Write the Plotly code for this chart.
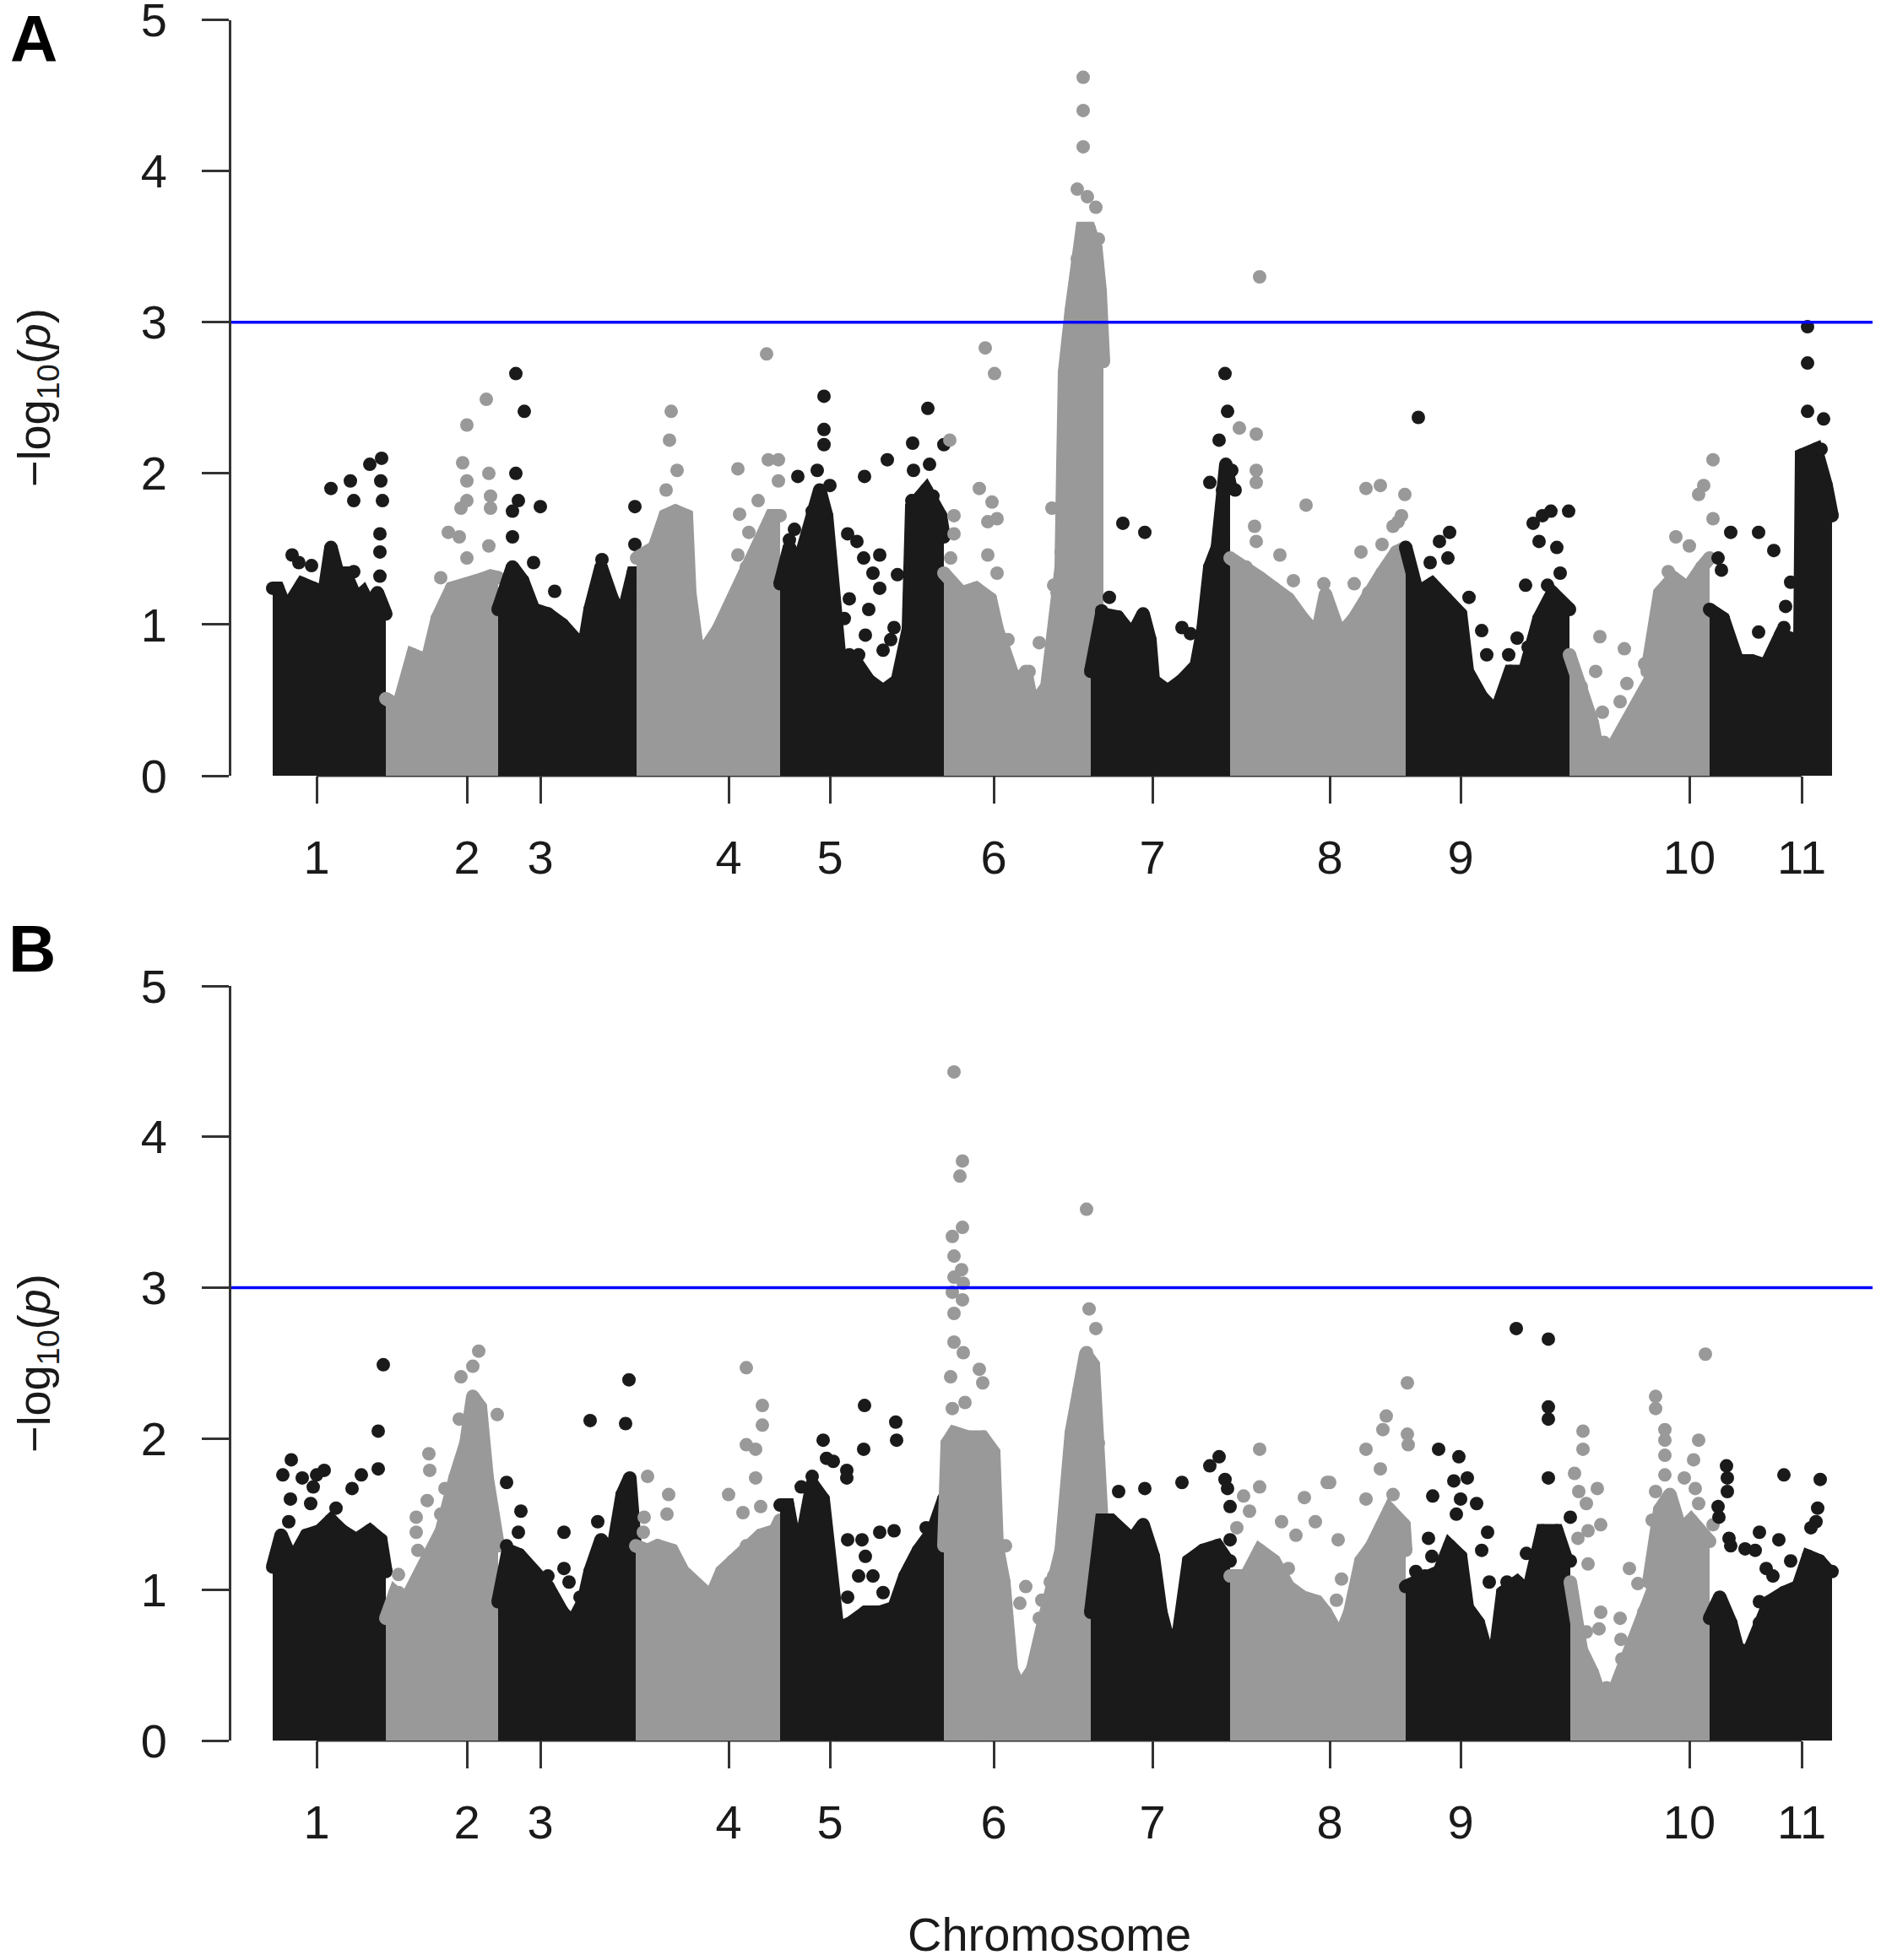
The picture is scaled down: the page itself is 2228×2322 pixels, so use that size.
import plotly.graph_objects as go

# chromosome ticks (cumulative position, same units as the point positions)
CHROM_LABELS = ["1", "2", "3", "4", "5", "6", "7", "8", "9", "10", "11"]
TICK_POS = [52, 230, 317, 540, 660, 854, 1042, 1252, 1407, 1678, 1811]
SUGGESTIVE = 3.0

# ---- panel A: dense body of each chromosome (upper edge) ----
A_ENV_POS = [
    [0, 6, 16, 35, 48, 61, 69, 77, 86, 99, 107, 115, 124, 134],
    [134, 149, 166, 183, 195, 212, 242, 258, 267],
    [267, 284, 296, 309, 326, 343, 359, 368, 376, 389, 402, 414, 427, 431],
    [431, 452, 465, 477, 490, 494, 503, 515, 528, 545, 561, 578, 591, 601],
    [601, 612, 622, 639, 648, 656, 664, 673, 690, 706, 723, 740, 753, 757, 774, 791, 795],
    [795, 816, 833, 850, 858, 871, 883, 892, 900, 917, 929, 934, 936, 938, 946, 953, 959, 967, 975, 980, 984],
    [969, 982, 1001, 1018, 1031, 1039, 1043, 1060, 1077, 1094, 1102, 1110, 1119, 1125, 1129, 1134],
    [1134, 1153, 1169, 1186, 1203, 1220, 1237, 1247, 1264, 1281, 1298, 1314, 1331, 1342],
    [1342, 1356, 1373, 1390, 1407, 1415, 1432, 1449, 1466, 1483, 1500, 1516, 1533, 1536],
    [1536, 1550, 1563, 1571, None, 1628, 1643, 1659, 1676, 1693, 1702],
    [1702, 1718, 1735, 1752, 1769, 1786, 1803, 1809, 1811, 1828, 1840, 1847],
]
A_ENV_LOGP = [
    [1.24, 1.24, 1.10, 1.27, 1.24, 1.21, 1.51, 1.34, 1.34, 1.17, 1.21, 1.12, 1.21, 1.07],
    [0.51, 0.46, 0.80, 0.76, 1.04, 1.24, 1.29, 1.32, 1.31],
    [1.10, 1.38, 1.29, 1.10, 1.07, 1.00, 0.90, 0.83, 1.10, 1.38, 1.17, 1.04, 1.34, 1.34],
    [1.44, 1.51, 1.72, 1.75, 1.72, 1.21, 0.83, 0.86, 0.97, 1.17, 1.38, 1.55, 1.72, 1.72],
    [1.27, 1.51, 1.38, 1.75, 1.89, 1.72, 1.10, 0.69, 0.76, 0.63, 0.56, 0.63, 0.97, 1.78, 1.89, 1.72, 1.58],
    [1.34, 1.21, 1.24, 1.17, 0.97, 0.73, 0.56, 0.69, 0.46, 0.59, 1.21, 1.38, 2.06, 2.67, 3.08, 3.42, 3.62, 3.62, 3.49, 3.21, 2.74],
    [0.69, 1.07, 1.05, 0.93, 1.07, 0.90, 0.63, 0.56, 0.63, 0.73, 0.97, 1.38, 1.51, 1.89, 2.06, 1.92],
    [1.44, 1.38, 1.31, 1.24, 1.17, 1.04, 0.93, 1.20, 0.93, 1.04, 1.21, 1.34, 1.48, 1.51],
    [1.51, 1.21, 1.27, 1.17, 1.07, 0.69, 0.52, 0.42, 0.69, 0.69, 1.04, 1.21, 1.10, 1.10],
    [0.80, 0.59, 0.35, 0.12, None, 0.69, 1.21, 1.31, 1.24, 1.38, 1.44],
    [1.10, 1.04, 0.76, 0.76, 0.73, 0.93, 0.90, 0.90, 2.12, 2.16, 1.92, 1.72],
]
# ---- panel A: single SNPs standing out of the body ----
A_PT_POS = [
    [23, 46, 69, 92, 96, 115, 129, 128, 130, 127, 127, 127, 96, 69, 31],
    [199, 208, 221, 230, 223, 230, 230, 225, 230, 253, 256, 258, 258, 256],
    [288, 298, 288, 291, 284, 317, 284, 309, 334, 390, 429, 429],
    [472, 470, 479, 466, 585, 551, 587, 599, 599, 575, 553, 564, 551],
    [653, 653, 653, 645, 622, 660, 618, 612, 681, 692, 700, 719, 701, 728, 740, 683, 711,
     719, 736, 683, 702, 723, 711, 677, 776, 758, 795, 759, 778, 757, 782, 694, 706, 732],
    [844, 855, 802, 837, 852, 858, 847, 807, 807, 803, 847, 858, 923, 908, 896, 925, 934,
     871, 887, 960, 960, 960, 953, 965, 975, 967, 978],
    [991, 982, 1007, 1033, 1077, 1087, 1128, 1131, 1121, 1110, 1136, 1140],
    [1145, 1165, 1165, 1165, 1169, 1163, 1165, 1193, 1224, 1209, 1245, 1295, 1312, 1341,
     1333, 1289, 1314, 1281, 1327, 1337],
    [1357, 1394, 1382, 1371, 1392, 1417, 1432, 1438, 1464, 1474, 1487, 1484, 1510, 1493,
     1504, 1514, 1535, 1500, 1521, 1525, 1420],
    [1706, 1695, 1689, 1706, 1662, 1678, 1693, 1653, 1572, 1601, 1604, 1625, 1567, 1575,
     1577, 1596, 1601, 1605, 1609, 1612, 1620],
    [1818, 1818, 1818, 1837, 1834, 1727, 1760, 1778, 1798, 1792, 1790, 1712, 1716, 1760],
]
A_PT_LOGP = [
    [1.46, 1.39, 1.90, 1.95, 1.82, 2.06, 2.10, 1.95, 1.82, 1.60, 1.48, 1.32, 1.35, 1.48, 1.41],
    [1.31, 1.61, 1.58, 1.44, 1.77, 1.82, 1.95, 2.07, 2.32, 2.49, 2.00, 1.85, 1.77, 1.52],
    [2.66, 2.41, 2.00, 1.82, 1.75, 1.78, 1.58, 1.41, 1.22, 1.43, 1.78, 1.53],
    [2.41, 2.22, 2.02, 1.89, 2.79, 2.03, 2.09, 2.09, 1.95, 1.82, 1.73, 1.61, 1.46],
    [2.51, 2.29, 2.19, 2.02, 1.98, 1.92, 1.63, 1.56, 1.60, 1.55, 1.44, 1.46, 1.98, 2.09, 1.33, 1.17, 1.34,
     1.24, 0.98, 0.80, 0.93, 0.83, 0.59, 1.04, 2.43, 2.20, 2.19, 2.02, 2.06, 1.82, 1.85, 0.80, 1.10, 0.90],
    [2.83, 2.66, 2.22, 1.90, 1.81, 1.70, 1.68, 1.72, 1.60, 1.44, 1.46, 1.34, 1.77, 0.88, 0.69, 1.26, 1.48,
     0.90, 0.66, 4.62, 4.40, 4.16, 3.88, 3.83, 3.76, 3.60, 3.55],
    [1.18, 1.09, 1.67, 1.61, 0.98, 0.94, 2.66, 2.41, 2.22, 1.94, 2.02, 1.89],
    [2.30, 2.26, 2.02, 1.94, 3.30, 1.65, 1.55, 1.46, 1.79, 1.29, 1.27, 1.90, 1.92, 1.86,
     1.68, 1.48, 1.53, 1.27, 1.65, 1.72],
    [2.37, 1.61, 1.55, 1.41, 1.44, 1.18, 0.96, 0.80, 0.80, 0.91, 0.85, 1.26, 1.26, 1.67,
     1.72, 1.75, 1.75, 1.55, 1.51, 1.34, 0.59],
    [2.09, 1.92, 1.86, 1.70, 1.58, 1.52, 1.38, 1.35, 0.92, 0.84, 0.61, 0.74, 0.69, 0.42,
     0.22, 0.49, 0.32, 0.15, 0.08, 0.30, 0.05],
    [2.97, 2.73, 2.41, 2.36, 2.16, 1.61, 1.61, 1.49, 1.28, 1.12, 0.98, 1.44, 1.36, 0.95],
]

# ---- panel B: dense body ----
B_ENV_POS = [
    [0, 10, 23, 40, 56, 69, 82, 99, 115, 128, 134],
    [134, 145, 157, 170, 183, 200, 216, 229, 237, 246, 254, 263, 267],
    [267, 279, 292, 309, 326, 343, 355, 368, 376, 389, 402, 414, 423, 430],
    [430, 444, 456, 473, 486, 503, 519, 532, 545, 561, 578, 595, 601],
    [601, 610, 622, 639, 652, 660, 669, 685, 702, 719, 736, 749, 765, 782, 795],
    [795, 799, 807, 824, 841, 854, 858, 866, 875, 883, 892, 900, 913, 925, 934, 946, 955, 963, 972, 978, 982],
    [969, 982, 993, 1009, 1018, 1031, 1043, 1052, 1060, 1073, 1085, 1102, 1119, 1131, 1134],
    [1134, 1153, 1169, 1186, 1203, 1220, 1237, 1247, 1264, 1276, 1289, 1302, 1323, 1340, 1342],
    [1342, 1365, 1382, 1394, 1407, 1415, 1428, 1445, 1457, 1474, 1487, 1504, 1521, 1533, 1537],
    [1537, 1550, 1563, 1575, None, 1630, 1643, 1655, 1668, 1680, 1693, 1702],
    [1702, 1714, 1727, 1735, 1748, 1761, 1773, 1790, 1807, 1819, 1832, 1843, 1847],
]
B_ENV_LOGP = [
    [1.15, 1.36, 1.19, 1.36, 1.39, 1.46, 1.39, 1.33, 1.39, 1.33, 1.12],
    [0.81, 0.98, 0.92, 1.05, 1.19, 1.39, 1.74, 1.97, 2.28, 2.21, 1.74, 1.33, 1.29],
    [0.92, 1.26, 1.23, 1.12, 1.02, 0.85, 0.78, 0.92, 1.12, 1.33, 1.23, 1.63, 1.74, 1.23],
    [1.29, 1.26, 1.29, 1.26, 1.12, 1.02, 0.95, 1.12, 1.19, 1.29, 1.36, 1.39, 1.46],
    [1.56, 1.56, 1.19, 1.70, 1.60, 1.15, 0.74, 0.78, 0.85, 0.85, 0.88, 1.09, 1.26, 1.39, 1.60],
    [1.29, 1.97, 2.04, 2.01, 2.01, 1.91, 1.29, 1.05, 0.47, 0.37, 0.40, 0.47, 0.78, 1.09, 1.26, 2.04, 2.32, 2.56, 2.49, 1.97, 1.46],
    [0.85, 1.46, 1.46, 1.36, 1.33, 1.43, 1.22, 0.85, 0.68, 0.71, 1.19, 1.26, 1.29, 1.19, 1.19],
    [1.09, 1.09, 1.26, 1.19, 1.02, 0.95, 0.92, 0.85, 0.68, 0.85, 1.19, 1.29, 1.53, 1.43, 1.26],
    [1.02, 1.09, 1.12, 1.29, 1.22, 0.88, 0.78, 0.44, 0.98, 1.05, 0.98, 1.39, 1.39, 1.19, 1.19],
    [1.05, 0.60, 0.45, 0.25, None, 1.05, 1.53, 1.63, 1.39, 1.46, 1.36, 1.32],
    [0.81, 0.95, 0.78, 0.61, 0.58, 0.78, 0.92, 0.98, 1.02, 1.22, 1.19, 1.12, 1.12],
]
# ---- panel B: single SNPs ----
B_PT_POS = [
    [131, 125, 125, 22, 12, 35, 52, 61, 48, 21, 45, 19, 75, 94, 105, 92],
    [244, 237, 223, 221, 266, 251, 185, 186, 183, 170, 170, 172, 199, 204, 149, 149],
    [277, 294, 291, 277, 345, 345, 351, 376, 418, 422, 385, 326, 364],
    [444, 469, 467, 440, 439, 561, 580, 580, 561, 572, 572, 540, 557, 578, 545, 490],
    [652, 656, 664, 680, 680, 701, 700, 738, 739, 639, 626, 681, 698, 719, 736, 702, 711,
     723, 694, 681, 795, 795, 774],
    [807, 817, 814, 817, 805, 807, 816, 807, 818, 805, 817, 807, 807, 818, 837, 841, 803,
     805, 820, 868, 892, 911, 885, 908, 921, 934, 964, 967, 975, 964],
    [1002, 1033, 1077, 1110, 1121, 1128, 1131, 1134, 980, 993, 1134],
    [1169, 1169, 1150, 1157, 1142, 1222, 1235, 1249, 1195, 1212, 1203, 1344, 1319, 1315,
     1295, 1344, 1345, 1312, 1252, 1262, 1260, 1266, 1295, 1327],
    [1473, 1511, 1511, 1511, 1511, 1381, 1405, 1399, 1415, 1374, 1407, 1426, 1402, 1369,
     1439, 1432, 1373, 1354, 1537, 1485, 1462, 1460, 1441],
    [1552, 1552, 1542, 1547, 1556, 1569, 1573, 1558, 1558, 1546, 1607, 1617, 1573, 1624,
     1571, 1556, 1697, 1638, 1638, 1649, 1649, 1649, 1689, 1683, 1649, 1672, 1685, 1689,
     1638, 1634, 1706, 1596, 1597, 1598, 1599, 1600, 1602, 1607, 1580, 1584],
    [1722, 1723, 1723, 1712, 1713, 1725, 1727, 1790, 1833, 1830, 1828, 1822, 1761, 1744,
     1784, 1798, 1756, 1769, 1777, 1761],
]
B_PT_LOGP = [
    [2.49, 2.05, 1.80, 1.86, 1.76, 1.74, 1.76, 1.79, 1.68, 1.60, 1.57, 1.45, 1.54, 1.67, 1.76, 0.99],
    [2.58, 2.48, 2.41, 2.13, 2.16, 1.91, 1.90, 1.79, 1.59, 1.48, 1.38, 1.26, 1.50, 1.67, 1.10, 0.98],
    [1.71, 1.52, 1.38, 1.29, 1.38, 1.14, 1.05, 2.12, 2.10, 2.39, 1.45, 1.09, 0.95],
    [1.75, 1.63, 1.50, 1.48, 1.38, 2.47, 2.22, 2.09, 1.96, 1.93, 1.74, 1.63, 1.51, 1.55, 1.17, 1.10],
    [1.99, 1.87, 1.85, 1.79, 1.74, 2.22, 1.93, 2.11, 1.99, 1.75, 1.68, 1.33, 1.33, 1.38, 1.39, 1.22, 1.09,
     0.98, 1.09, 0.95, 1.60, 1.48, 1.41],
    [4.43, 3.84, 3.74, 3.40, 3.34, 3.21, 3.12, 3.07, 3.03, 2.97, 2.92, 2.83, 2.64, 2.57, 2.46, 2.37, 2.41,
     2.20, 2.24, 1.29, 1.02, 0.93, 0.91, 0.81, 1.05, 1.15, 3.52, 2.86, 2.73, 2.57],
    [1.65, 1.67, 1.71, 1.82, 1.88, 1.73, 1.67, 1.55, 1.15, 1.07, 1.33],
    [1.93, 1.68, 1.62, 1.52, 1.41, 1.61, 1.45, 1.71, 1.45, 1.36, 1.14, 2.37, 2.15, 2.06,
     1.93, 2.03, 1.96, 1.80, 1.71, 1.33, 0.93, 1.07, 1.60, 1.63],
    [2.73, 2.66, 2.21, 2.13, 1.74, 1.93, 1.88, 1.72, 1.74, 1.62, 1.60, 1.57, 1.50, 1.34,
     1.38, 1.26, 1.22, 1.12, 1.48, 1.24, 1.05, 0.69, 1.05],
    [2.05, 1.93, 1.77, 1.65, 1.57, 1.67, 1.43, 1.39, 1.17, 1.34, 1.14, 1.04, 0.85, 0.85,
     0.74, 0.72, 2.56, 2.28, 2.20, 2.06, 1.99, 1.89, 1.99, 1.86, 1.76, 1.74, 1.67, 1.57,
     1.65, 1.46, 1.43, 0.81, 0.67, 0.54, 0.41, 0.28, 0.15, 0.08, 0.35, 0.15],
    [1.82, 1.74, 1.65, 1.55, 1.48, 1.34, 1.29, 1.76, 1.73, 1.54, 1.45, 1.41, 1.38, 1.27,
     1.33, 1.19, 1.26, 1.14, 1.09, 0.92],
]

W, H = 2228, 2322
X_RANGE = [-49, 1895]
FONT = "Liberation Sans, Arial, sans-serif"
TEXT = "#1a1a1a"
AXIS = "#333333"
COLS = ["#1a1a1a", "#999999"]  # gray10 / gray60 alternating
DOT = 16

panels = [
    ("x", "y", A_ENV_POS, A_ENV_LOGP, A_PT_POS, A_PT_LOGP),
    ("x2", "y2", B_ENV_POS, B_ENV_LOGP, B_PT_POS, B_PT_LOGP),
]

fig = go.Figure()
for xa, ya, env_pos, env_logp, pt_pos, pt_logp in panels:
    for i in range(len(CHROM_LABELS)):
        col = COLS[i % 2]
        # dense bulk of SNPs drawn as a filled band with dotted rim
        fig.add_trace(go.Scatter(
            x=env_pos[i], y=env_logp[i], mode="lines+markers",
            line=dict(color=col, width=DOT), fill="tozeroy", fillcolor=col,
            marker=dict(color=col, size=DOT, line=dict(width=0)),
            xaxis=xa, yaxis=ya, hoverinfo="skip", showlegend=False,
        ))
        fig.add_trace(go.Scatter(
            x=pt_pos[i], y=pt_logp[i], mode="markers",
            marker=dict(color=col, size=DOT, line=dict(width=0)),
            xaxis=xa, yaxis=ya, showlegend=False,
            name="chr" + CHROM_LABELS[i],
        ))

xdom = [274 / W, 2218 / W]
doms = [[1 - 919 / H, 1 - 23.5 / H], [1 - 2062 / H, 1 - 1168 / H]]

xcommon = dict(
    domain=xdom, range=X_RANGE, tickvals=TICK_POS, ticktext=CHROM_LABELS,
    ticks="outside", ticklen=32, tickwidth=3, tickcolor=AXIS,
    showline=False, showgrid=False, zeroline=False, automargin=False,
    tickfont=dict(family=FONT, size=56, color=TEXT), ticklabelstandoff=16,
    ticklabeloverflow="allow",
)
ycommon = dict(
    range=[0, 5], tickvals=[0, 1, 2, 3, 4, 5],
    ticks="outside", ticklen=32, tickwidth=3, tickcolor=AXIS,
    showline=True, linewidth=3, linecolor=AXIS, automargin=False,
    showgrid=False, zeroline=False,
    tickfont=dict(family=FONT, size=56, color=TEXT), ticklabelstandoff=30,
    ticklabeloverflow="allow",
)

fig.update_layout(
    width=W, height=H, autosize=False,
    margin=dict(l=0, r=0, t=0, b=0, pad=0, autoexpand=False),
    paper_bgcolor="white", plot_bgcolor="white", showlegend=False,
    xaxis=dict(anchor="y", **xcommon),
    yaxis=dict(anchor="x", domain=doms[0], **ycommon),
    xaxis2=dict(anchor="y2", **xcommon),
    yaxis2=dict(anchor="x2", domain=doms[1], **ycommon),
)

frac = lambda p: (p - X_RANGE[0]) / (X_RANGE[1] - X_RANGE[0])
shapes = []
for xa, ya in (("x", "y"), ("x2", "y2")):
    # suggestive line
    shapes.append(dict(type="line", xref=xa + " domain", yref=ya, x0=0, x1=1,
                       y0=SUGGESTIVE, y1=SUGGESTIVE, line=dict(color="#0000ff", width=3.5)))
    # R-style x axis line: first to last tick only
    shapes.append(dict(type="line", xref=xa + " domain", yref=ya + " domain",
                       x0=frac(TICK_POS[0]), x1=frac(TICK_POS[-1]), y0=0, y1=0,
                       line=dict(color=AXIS, width=3), layer="below"))
fig.update_layout(shapes=shapes)

ylab = "\u2212log<sub>10</sub>(<i>p</i>)"
ann = [
    dict(text="<b>A</b>", x=40 / W, y=1, yanchor="top", font=dict(size=78, color="black")),
    dict(text="<b>B</b>", x=38 / W, y=1 - 1124 / H, font=dict(size=78, color="black")),
    dict(text=ylab, x=44 / W, y=1 - 471 / H, textangle=-90, font=dict(size=54, color=TEXT)),
    dict(text=ylab, x=44 / W, y=1 - 1615 / H, textangle=-90, font=dict(size=54, color=TEXT)),
    dict(text="Chromosome", x=1243 / W, y=1 - 2291 / H, font=dict(size=56, color=TEXT)),
]
for a in ann:
    a.setdefault("yanchor", "middle")
    a.update(xref="paper", yref="paper", showarrow=False, xanchor="center")
    a["font"]["family"] = FONT
fig.update_layout(annotations=ann)

fig.write_html("out.html", config={"displayModeBar": False},
               post_script="document.body.style.margin='0';")
